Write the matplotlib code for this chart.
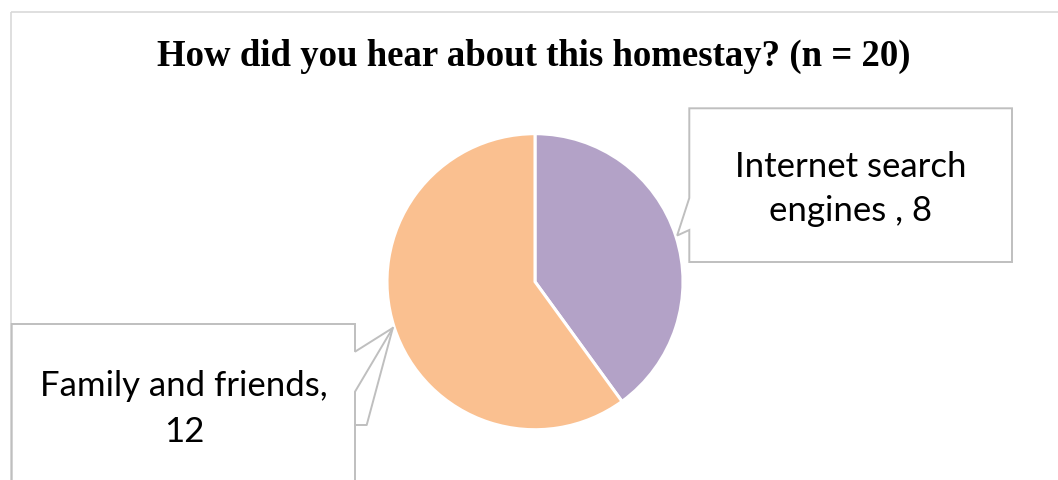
import numpy as np
import matplotlib
matplotlib.use("Agg")
import matplotlib.pyplot as plt
from matplotlib.patches import Polygon, Rectangle
from matplotlib.lines import Line2D

# Survey responses
categories = ["Internet search engines", "Family and friends"]
counts = [8, 12]
colors = ["#B3A2C7", "#FAC090"]
label_lines = [["Internet search", "engines , 8"], ["Family and friends,", "12"]]
title = "How did you hear about this homestay? (n = 20)"

W, H = 1058, 480
fig = plt.figure(figsize=(W / 100, H / 100), dpi=100)
fig.patch.set_facecolor("white")

# Pie geometry in pixels
cx, cy, r = 535.0, 281.7, 148.0
pie_ax = fig.add_axes([(cx - r) / W, (H - cy - r) / H, 2 * r / W, 2 * r / H])
wedges, _ = pie_ax.pie(counts, colors=colors, startangle=90, counterclock=False,
                       wedgeprops=dict(edgecolor="white", linewidth=2.2))
pie_ax.set_xlim(-1, 1)
pie_ax.set_ylim(-1, 1)
pie_ax.set_aspect("auto")
pie_ax.axis("off")

# Overlay axes in pixel coordinates (y downwards)
ov = fig.add_axes([0, 0, 1, 1], zorder=5)
ov.set_xlim(0, W)
ov.set_ylim(H, 0)
ov.axis("off")
ov.patch.set_alpha(0)

# Chart area border
ov.add_patch(Rectangle((11, 11.7), 1100, 520, fill=False, edgecolor="#D9D9D9", lw=1.2))

ov.text(534, 56, title, ha="center", va="center", fontsize=26.5, fontweight="bold",
        family="Liberation Serif", color="black")

# Callout tips at the middle angle of each wedge
def tip_point(w, rad=1.0):
    ang = np.deg2rad((w.theta1 + w.theta2) / 2)
    return cx + r * rad * np.cos(ang), cy - r * rad * np.sin(ang)

edge_col = "#BFBFBF"
lw = 1.4

# Internet search engines callout
tx, ty = tip_point(wedges[0], 1.01)
bx0, by0, bx1, by1 = 689.3, 108.3, 1012.0, 262.0
pts = [(bx0, by0), (bx1, by0), (bx1, by1), (bx0, by1), (bx0, 230), (tx, ty), (bx0, 198)]
ov.add_patch(Polygon(pts, closed=True, facecolor="white", edgecolor=edge_col, lw=lw))

# Family and friends callout
fx, fy = tip_point(wedges[1], 1.01)
ax0, ay0, ax1, ay1 = 11.7, 324.0, 355.0, 500.0
pts2 = [(ax0, ay0), (ax1, ay0), (ax1, 351.7), (fx, fy), (ax1, 391.7), (ax1, ay1), (ax0, ay1)]
ov.add_patch(Polygon(pts2, closed=True, facecolor="white", edgecolor=edge_col, lw=lw))
ov.add_line(Line2D([fx, 366.7, ax1], [fy, 425, 425], color=edge_col, lw=lw))

label_font = dict(family="Lato", fontsize=25, color="black", ha="center", va="baseline")
for i, y in enumerate([176.7, 220.7]):
    ov.text((bx0 + bx1) / 2, y, label_lines[0][i], **label_font)
for i, y in enumerate([396.0, 441.7]):
    ov.text(184, y, label_lines[1][i], **label_font)

fig.savefig("out.png", dpi=100, facecolor="white")
